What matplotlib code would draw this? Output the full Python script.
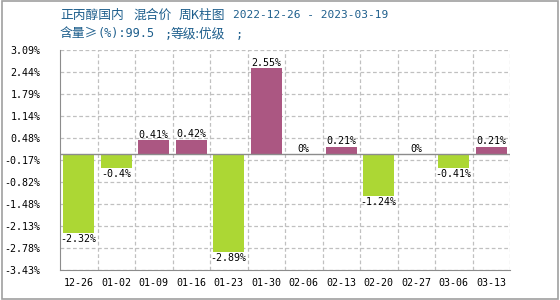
import matplotlib
matplotlib.use('Agg')
import matplotlib.pyplot as plt
import numpy as np
from matplotlib.patches import Rectangle

plt.rcParams['font.family'] = ['DejaVu Sans Mono', 'Noto Sans CJK SC']

# data
weeks = ['12-26', '01-02', '01-09', '01-16', '01-23', '01-30',
         '02-06', '02-13', '02-20', '02-27', '03-06', '03-13']
changes = [-2.32, -0.4, 0.41, 0.42, -2.89, 2.55, 0, 0.21, -1.24, 0, -0.41, 0.21]
ytick_vals = [3.09, 2.44, 1.79, 1.14, 0.48, -0.17, -0.82, -1.48, -2.13, -2.78, -3.43]

up_color = '#ab5782'
down_color = '#acd734'
grid_color = '#c0c0c0'
axis_color = '#8c8c8c'

fig = plt.figure(figsize=(5.6, 3.0), dpi=100)
fig.patches.append(Rectangle((0.003, 0.004), 0.994, 0.992, transform=fig.transFigure,
                             fill=False, edgecolor='#a0a0a0', lw=1.2))

ax = fig.add_axes([60 / 560, 30 / 300, 450 / 560, 220 / 300])
x = np.arange(len(weeks))
colors = [up_color if v >= 0 else down_color for v in changes]
ax.bar(x, changes, width=0.83, color=colors, zorder=3)

ax.set_xlim(-0.5, len(weeks) - 0.5)
ax.set_ylim(-3.43, 3.09)

# grid
for yv in ytick_vals:
    ax.axhline(yv, color=grid_color, lw=0.9, ls=(0, (3, 2)), zorder=1)
for xv in np.arange(0.5, len(weeks), 1.0):
    ax.axvline(xv, color=grid_color, lw=0.9, ls=(0, (3, 2)), zorder=1)
ax.axhline(0, color=axis_color, lw=1.0, zorder=4)

for side in ['top', 'right']:
    ax.spines[side].set_visible(False)
ax.spines['left'].set_color(axis_color)
ax.spines['bottom'].set_color(axis_color)

ax.set_yticks(ytick_vals)
ax.set_yticklabels(['%.2f%%' % v for v in ytick_vals])
ax.set_xticks(x)
ax.set_xticklabels(weeks)
ax.tick_params(axis='both', length=0, labelsize=7.2, colors='black')
ax.tick_params(axis='y', pad=14)
ax.tick_params(axis='x', pad=6)

# value labels
for xi, v in zip(x, changes):
    txt = ('%g' % v) + '%'
    if v < 0:
        ax.annotate(txt, (xi, v), xytext=(0, -1), textcoords='offset points',
                    ha='center', va='top', fontsize=7.2, zorder=5)
    else:
        ax.annotate(txt, (xi, v), xytext=(0, 0.5), textcoords='offset points',
                    ha='center', va='bottom', fontsize=7.2, zorder=5)

# header
title_color = '#1d5e8c'
cjk = ['Noto Sans CJK SC', 'DejaVu Sans']
mono = ['DejaVu Sans Mono']
y1 = 1 - 15 / 300
y2 = 1 - 34 / 300
fig.text(60 / 560, y1, '正丙醇国内', color=title_color, fontsize=9.2, va='center', family=cjk)
fig.text(133 / 560, y1, '混合价', color=title_color, fontsize=9.2, va='center', family=cjk)
fig.text(179 / 560, y1, '周K柱图', color=title_color, fontsize=9.2, va='center', family=cjk)
fig.text(233 / 560, y1, '2022-12-26 - 2023-03-19', color=title_color,
         fontsize=8, va='center', family=mono)
fig.text(60 / 560, y2, '含量≥', color=title_color, fontsize=9.2, va='center', family=cjk)
fig.text(97 / 560, y2, '(%):99.5', color=title_color, fontsize=8.6, va='center', family=mono)
fig.text(165 / 560, y2, ';', color=title_color, fontsize=8.6, va='center', family=mono)
fig.text(171 / 560, y2, '等级:优级', color=title_color, fontsize=9.2, va='center', family=cjk)
fig.text(236 / 560, y2, ';', color=title_color, fontsize=8.6, va='center', family=mono)

fig.savefig('out.png', dpi=100)
